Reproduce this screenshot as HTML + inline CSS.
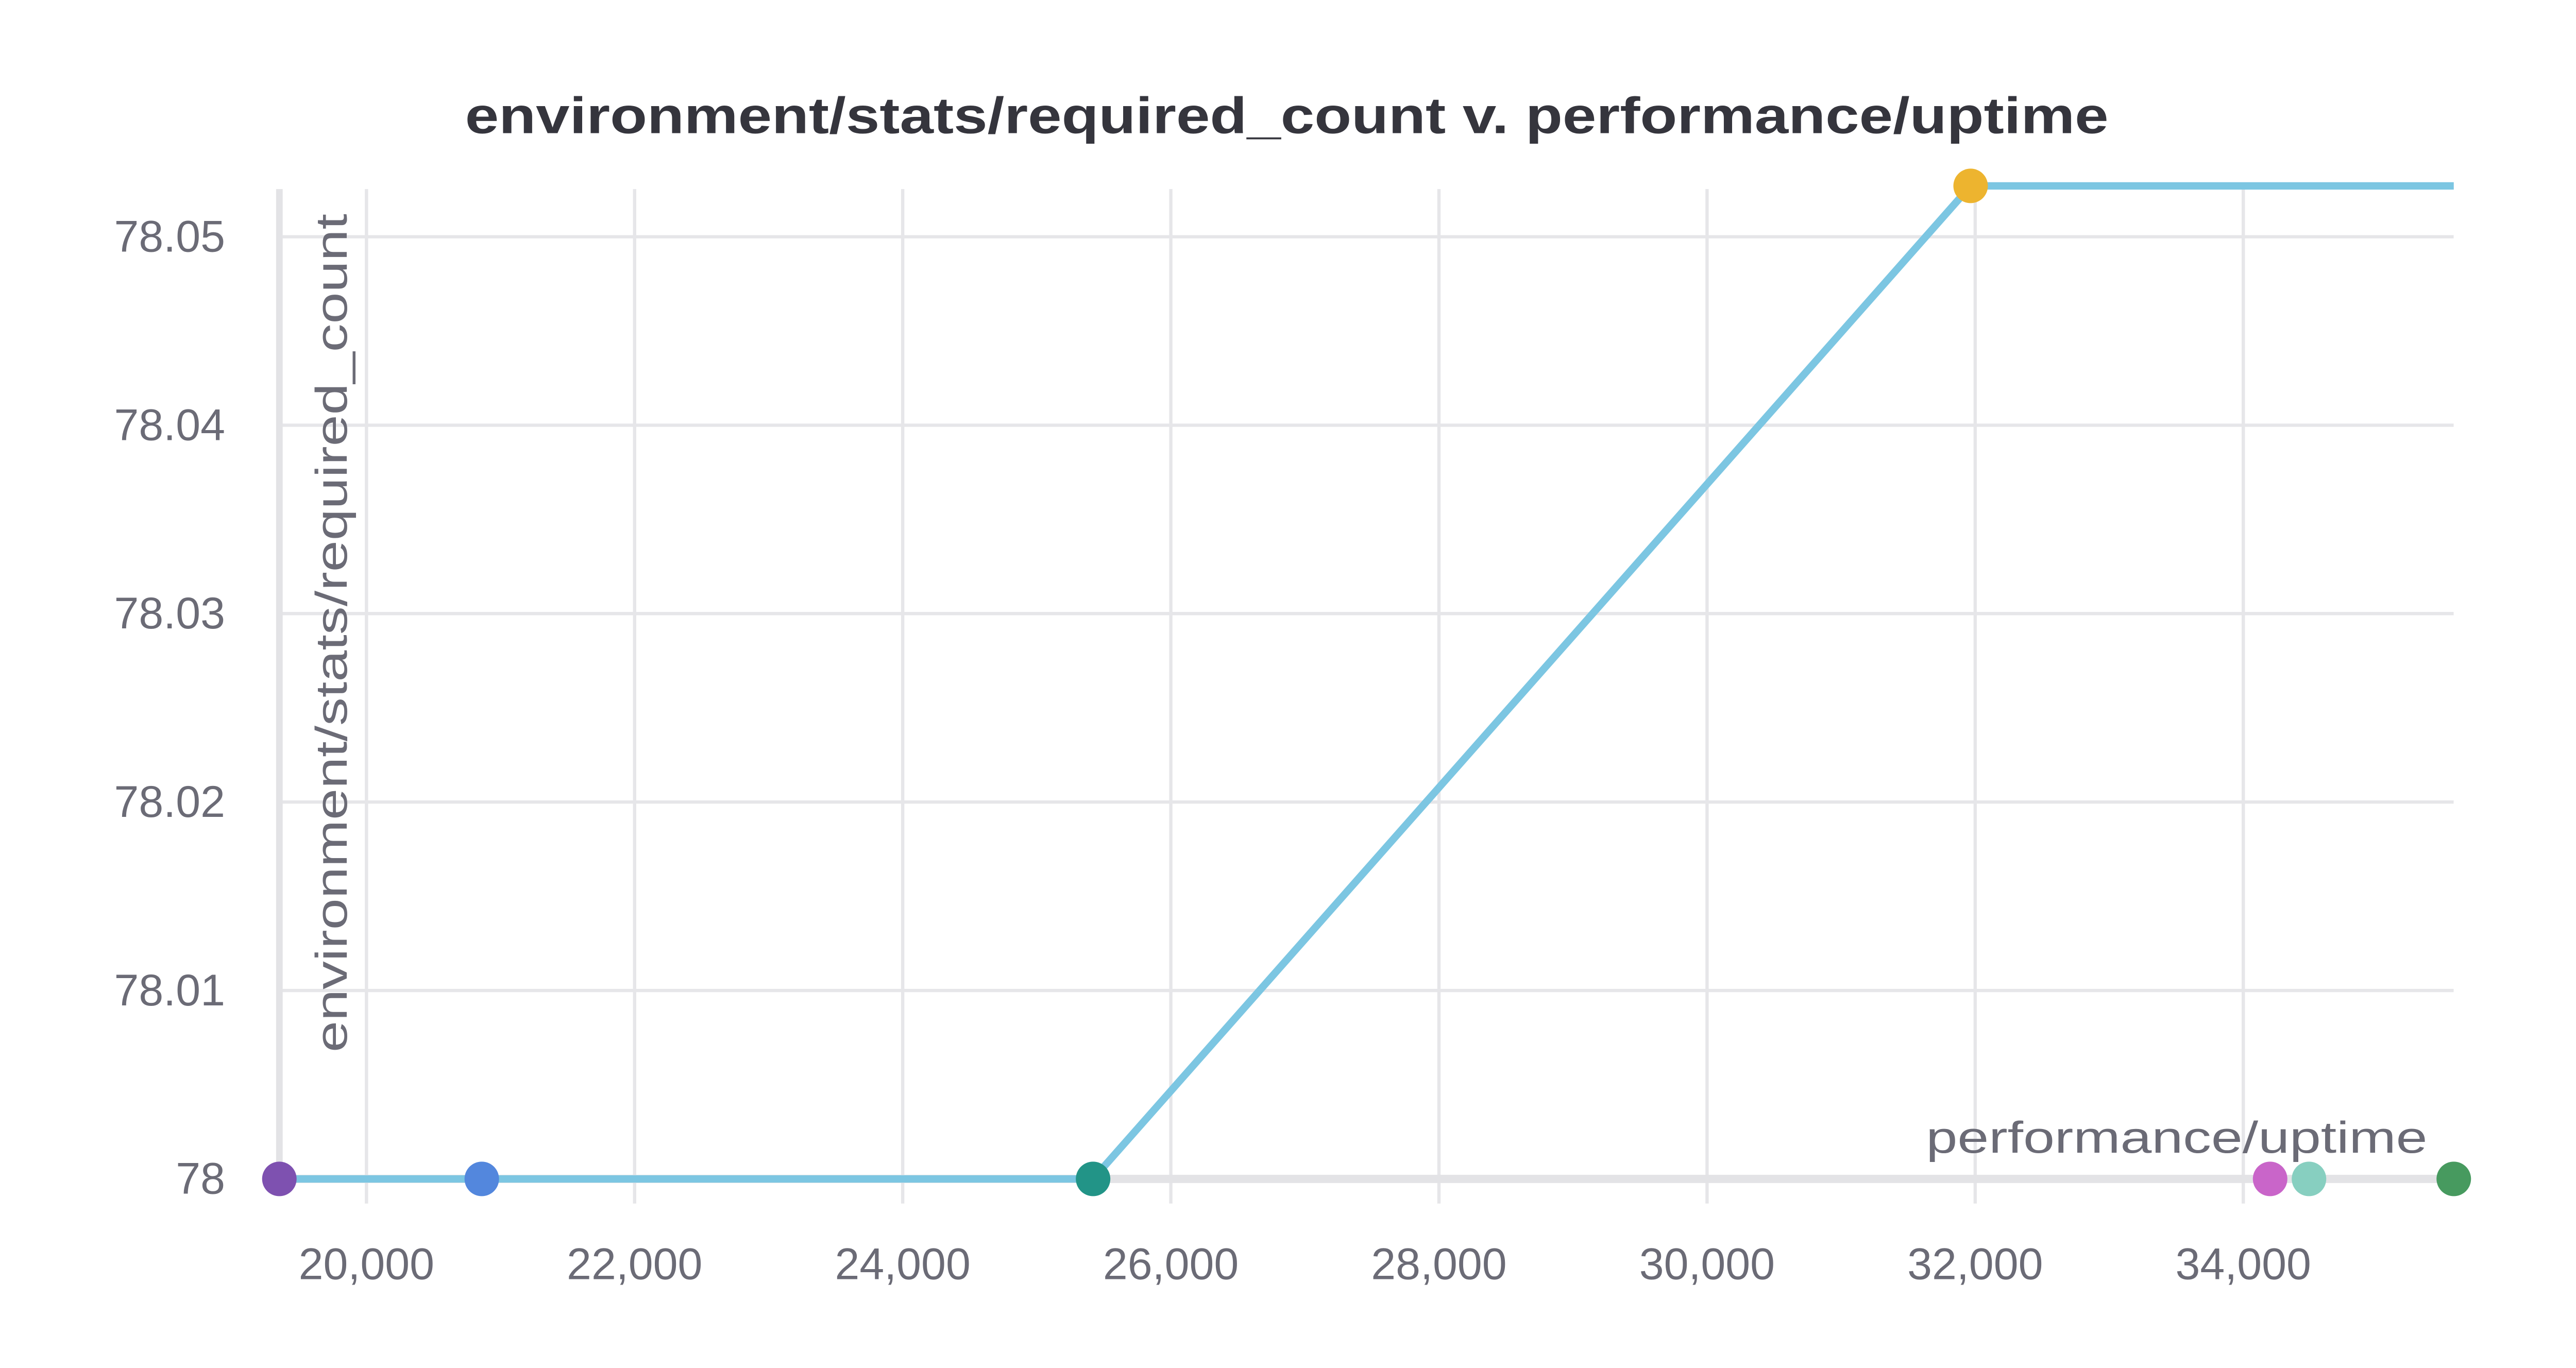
<!DOCTYPE html>
<html><head><meta charset="utf-8"><style>
html,body{margin:0;padding:0;background:#fff;}
svg{display:block;}
text{font-family:"Liberation Sans",sans-serif;}
</style></head><body>
<svg id="chart" width="5056" height="2656" viewBox="0 0 1585 832" preserveAspectRatio="none" xmlns="http://www.w3.org/2000/svg">
<text x="783" y="81" text-anchor="middle" font-size="31" font-weight="bold" fill="#35353d" textLength="1000" lengthAdjust="spacingAndGlyphs">environment/stats/required_count v. performance/uptime</text>
<g id="grid"></g><g id="axes"></g><g id="series"></g><g id="labels"></g>
<text transform="translate(211,385) rotate(-90)" text-anchor="middle" font-size="27" fill="#6b6b76" textLength="510" lengthAdjust="spacingAndGlyphs">environment/stats/required_count</text>
<text x="1477" y="701" text-anchor="end" font-size="27" fill="#6b6b76" textLength="305" lengthAdjust="spacingAndGlyphs">performance/uptime</text>
</svg>
<script>
const xTicks=[20000,22000,24000,26000,28000,30000,32000,34000];
const yTicks=[78,78.01,78.02,78.03,78.04,78.05];
const yTickLabels=["78","78.01","78.02","78.03","78.04","78.05"];
const lineX=[19350,20860,25420,31966,35570];
const lineY=[78,78,78,78.0527,78.0527];
const markerX=[19350,20860,25420,31966,34200,34490,35570];
const markerY=[78,78,78,78.0527,78,78,78];
const markerColors=["#7e51b0","#5387dd","#229487","#edb42f","#c965c9","#87cfc0","#479a5f"];
const NS="http://www.w3.org/2000/svg";
function xs(v){return 223+(v-20000)*(1365-223)/14000;}
function ys(v){return 717-(v-78)*(717-144)/0.05;}
function mk(tag,attrs,parent){const e=document.createElementNS(NS,tag);for(const k in attrs)e.setAttribute(k,attrs[k]);document.getElementById(parent).appendChild(e);return e;}
xTicks.forEach((t,i)=>{
 const l=mk('line',{x1:xs(t),x2:xs(t),y1:115,y2:732,stroke:'#e6e6e9','stroke-width':2},'grid');
 
 
 const tx=mk('text',{x:xs(t),y:778,'text-anchor':'middle','font-size':27,fill:'#6b6b76'},'labels');
 tx.textContent=t.toLocaleString('en-US');
 
 
});
yTicks.forEach((t,i)=>{
 if(i>0){const l=mk('line',{x1:170,x2:1493,y1:ys(t),y2:ys(t),stroke:'#e6e6e9','stroke-width':2},'grid');
 
 }
 const tx=mk('text',{x:137,y:ys(t)+9,'text-anchor':'end','font-size':27,fill:'#6b6b76'},'labels');
 tx.textContent=yTickLabels[i];
 
 
});
const ax=mk('line',{x1:170,x2:170,y1:115,y2:722,stroke:'#e3e3e6','stroke-width':4},'axes');


const bx=mk('line',{x1:160,x2:1493,y1:717,y2:717,stroke:'#e3e3e6','stroke-width':5},'axes');


const pts=lineX.map((x,i)=>xs(x)+','+ys(lineY[i])).join(' ');
const pl=mk('polyline',{points:pts,fill:'none',stroke:'#7cc6e2','stroke-width':4.5},'series');


markerX.forEach((x,i)=>{
 const c=mk('circle',{cx:xs(x),cy:ys(markerY[i]),r:10.5,fill:markerColors[i]},'series');
 
 
});
</script>
</body></html>
